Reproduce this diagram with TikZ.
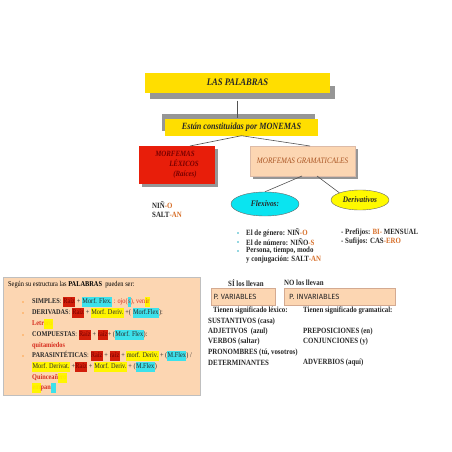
\documentclass[tikz,border=0pt]{standalone}
\usetikzlibrary{shapes.geometric}
\usepackage{fontspec}
\setmainfont{Liberation Serif}[FakeStretch=0.86]
\newfontfamily\csans{Fira Sans}
\definecolor{boxyellow}{RGB}{255,222,0}
\definecolor{ellyellow}{RGB}{255,250,0}
\definecolor{boxred}{RGB}{232,30,10}
\definecolor{peach}{RGB}{252,214,178}
\definecolor{cyanell}{RGB}{10,228,240}
\definecolor{shadowgray}{RGB}{150,150,150}
\definecolor{maroon}{RGB}{120,0,0}
\definecolor{brownor}{RGB}{170,85,35}
\definecolor{orangetxt}{RGB}{215,110,40}
\definecolor{redtxt}{RGB}{215,45,30}
\definecolor{hlred}{RGB}{210,30,10}
\definecolor{hlcyan}{RGB}{60,225,235}
\definecolor{hlyellow}{RGB}{255,245,0}
\definecolor{darktxt}{RGB}{40,40,40}
\definecolor{bulletc}{RGB}{150,215,225}
\newcommand{\hlb}[2]{{\setlength{\fboxsep}{0.4pt}\colorbox{#1}{\strut #2}}}
\newcommand{\rz}[1]{\hlb{hlred}{\textcolor{maroon}{#1}}}
\newcommand{\cy}[1]{\hlb{hlcyan}{#1}}
\newcommand{\ye}[1]{\hlb{hlyellow}{#1}}
\newcommand{\og}[1]{\textcolor{orangetxt}{#1}}
\begin{document}
\begin{tikzpicture}[x=1pt,y=-1pt,
  conn/.style={draw=darktxt!80,line width=0.6pt},
  shad/.style={fill=shadowgray,draw=none},
  txt/.style={inner sep=0pt,anchor=west,font=\fontsize{8}{9}\selectfont\bfseries,text=darktxt},
  ltxt/.style={inner sep=0pt,anchor=west,font=\fontsize{7.4}{9}\selectfont,text=black},
  blt/.style={fill=bulletc,minimum size=2pt,inner sep=0pt}]
\useasboundingbox[fill=white] (0,0) rectangle (452,452);
% LAS PALABRAS
\fill[shad] (150,86) rectangle (335,99);
\node[fill=boxyellow,minimum width=185pt,minimum height=20pt,inner sep=0pt,font=\fontsize{10}{12}\selectfont\bfseries\itshape,text=darktxt] (pal) at (237.5,82.5) {LAS PALABRAS};
% Estan
\fill[shad] (162,114) rectangle (315,131);
\node[fill=boxyellow,minimum width=153pt,minimum height=17pt,inner sep=0pt,font=\fontsize{9.5}{11}\selectfont\bfseries\itshape,text=darktxt] (mon) at (241.5,127) {Están constituidas por MONEMAS};
\draw[conn] (pal.south) ++(0,8) coordinate (pals) -- (pals |- mon.north);
% lexicos
\fill[shad] (142,149) rectangle (218,187);
\node[fill=boxred,minimum width=76pt,minimum height=38pt,inner sep=0pt] (lex) at (177,165) {};
\node[inner sep=0pt,font=\fontsize{8}{9}\selectfont\bfseries\itshape,text=maroon,align=left] at (lex) {MORFEMAS\\[1pt]\hspace*{14pt}LÉXICOS\\[1pt]\hspace*{18pt}(Raíces)};
% gramaticales
\fill[shad] (253,149) rectangle (358,179);
\node[fill=peach,draw=brownor!40,line width=0.3pt,minimum width=105pt,minimum height=30pt,inner sep=0pt,font=\fontsize{8.3}{9}\selectfont\itshape,text=brownor] (gra) at (302.5,161) {MORFEMAS GRAMATICALES};
\coordinate (lexc) at (190,146);
\coordinate (grac) at (310,146);
\draw[conn] (mon.south) -- (lexc);
\draw[conn] (mon.south) -- (grac);
% ellipses
\node[ellipse,fill=cyanell,draw=black!60,line width=0.4pt,minimum width=68pt,minimum height=24pt,inner sep=0pt,font=\fontsize{8.5}{10}\selectfont\bfseries\itshape,text=darktxt] (flex) at (265,204) {Flexivos:};
\node[ellipse,fill=ellyellow,draw=black!60,line width=0.4pt,minimum width=58pt,minimum height=20pt,inner sep=0pt,font=\fontsize{8.5}{10}\selectfont\bfseries\itshape,text=darktxt] (der) at (360,200) {Derivativos};
\coordinate (g1) at (302,176);
\coordinate (g2) at (317,176);
\draw[conn] (g1) -- (flex.north);
\draw[conn] (g2) -- (der.north west);
% NIN-O
\node[txt] (n1) at (152,205) {NIÑ\og{-O}};
\node[txt] (n2) at (152,215) {SALT\og{-AN}};
% bullets
\node[blt] at (238,233) {};
\node[blt] at (238,242) {};
\node[blt] at (238,251) {};
\node[txt] (b1) at (246,233) {El de género: NIÑ\og{-O}};
\node[txt] (b2) at (246,242) {El de número: NIÑO\og{-S}};
\node[txt] (b3) at (246,251) {Persona, tiempo, modo};
\node[txt] (b4) at (246,260) {y conjugación: SALT\og{-AN}};
\node[txt] (p1) at (341,233) {- Prefijos: \og{BI-} MENSUAL};
\node[txt] (p2) at (341,242) {- Sufijos: CAS\og{-ERO}};
% left box
\node[fill=peach,draw=black!25,line width=0.4pt,minimum width=197pt,minimum height=118pt,inner sep=0pt] (lbox) at (101.5,336) {};
\node[ltxt] at (8,285) {Según su estructura las \textbf{PALABRAS}\ \ pueden ser:};
\foreach \yy in {302,313,335,356} {\node[blt,fill=peach!70!orange] at (23,\yy) {};}
\begin{scope}[every node/.style={inner sep=0pt,anchor=west,font=\fontsize{7.3}{9}\selectfont,text=darktxt}]
\node at (32,302) {\textbf{SIMPLES}: \rz{Raíz} + \cy{Morf. Flex.} \textcolor{redtxt}{: ojo(\cy{s}), ven\ye{ir}}};
\node at (32,313) {\textbf{DERIVADAS}: \rz{Raíz} + \ye{Morf. Deriv.} +( \cy{Morf.Flex}):};
\node at (32,324) {\textcolor{redtxt}{\textbf{Letr}\ye{\textcolor{hlyellow!80!orange}{ero}}}};
\node at (32,335) {\textbf{COMPUESTAS}: \rz{Raíz} + \rz{raíz}+ (\cy{Morf. Flex}):};
\node at (32,346) {\textcolor{redtxt}{\textbf{quitamiedos}}};
\node at (32,356) {\textbf{PARASINTÉTICAS}: \rz{Raíz} + \rz{raíz} + \ye{morf. Deriv.} + (\cy{M.Flex}) /};
\node at (32,367) {\ye{Morf. Derivat.} +\rz{Raíz} + \ye{Morf. Deriv.} + (\cy{M.Flex})};
\node at (32,378) {\textcolor{redtxt}{\textbf{Quinceañ}\ye{\textcolor{hlyellow!80!orange}{ero}}}};
\node at (32,388) {\ye{\textcolor{hlyellow!80!orange}{em}}\textcolor{redtxt}{\textbf{pan}}\cy{\textcolor{hlcyan}{ar}}};
\end{scope}
% variables
\node[txt] (si) at (228,283) {SÍ los llevan};
\node[txt] (no) at (284,283) {NO los llevan};
\node[fill=peach,draw=brownor!50,line width=0.4pt,minimum width=64pt,minimum height=17pt,inner sep=0pt,font=\csans\fontsize{7.5}{9}\selectfont,text=darktxt] (var) at (243,296.5) {\hspace*{-16pt}P. VARIABLES};
\node[fill=peach,draw=brownor!50,line width=0.4pt,minimum width=111pt,minimum height=17pt,inner sep=0pt,font=\csans\fontsize{7.5}{9}\selectfont,text=darktxt] (inv) at (339.5,296.5) {};
\node[anchor=west,inner sep=0pt,font=\csans\fontsize{7.5}{9}\selectfont,text=darktxt] at (289,296.5) {P. INVARIABLES};
\node[txt] at (213,311) {Tienen significado léxico:};
\node[txt] at (208,321.5) {SUSTANTIVOS (casa)};
\node[txt] at (208,332) {ADJETIVOS\ \ (azul)};
\node[txt] at (208,342) {VERBOS (saltar)};
\node[txt] at (208,352.5) {PRONOMBRES (tú, vosotros)};
\node[txt] at (208,363) {DETERMINANTES};
\node[txt] at (303,311) {Tienen significado gramatical:};
\node[txt] at (303,332) {PREPOSICIONES (en)};
\node[txt] at (303,342) {CONJUNCIONES (y)};
\node[txt] at (303,363) {ADVERBIOS (aquí)};
\end{tikzpicture}
\end{document}
